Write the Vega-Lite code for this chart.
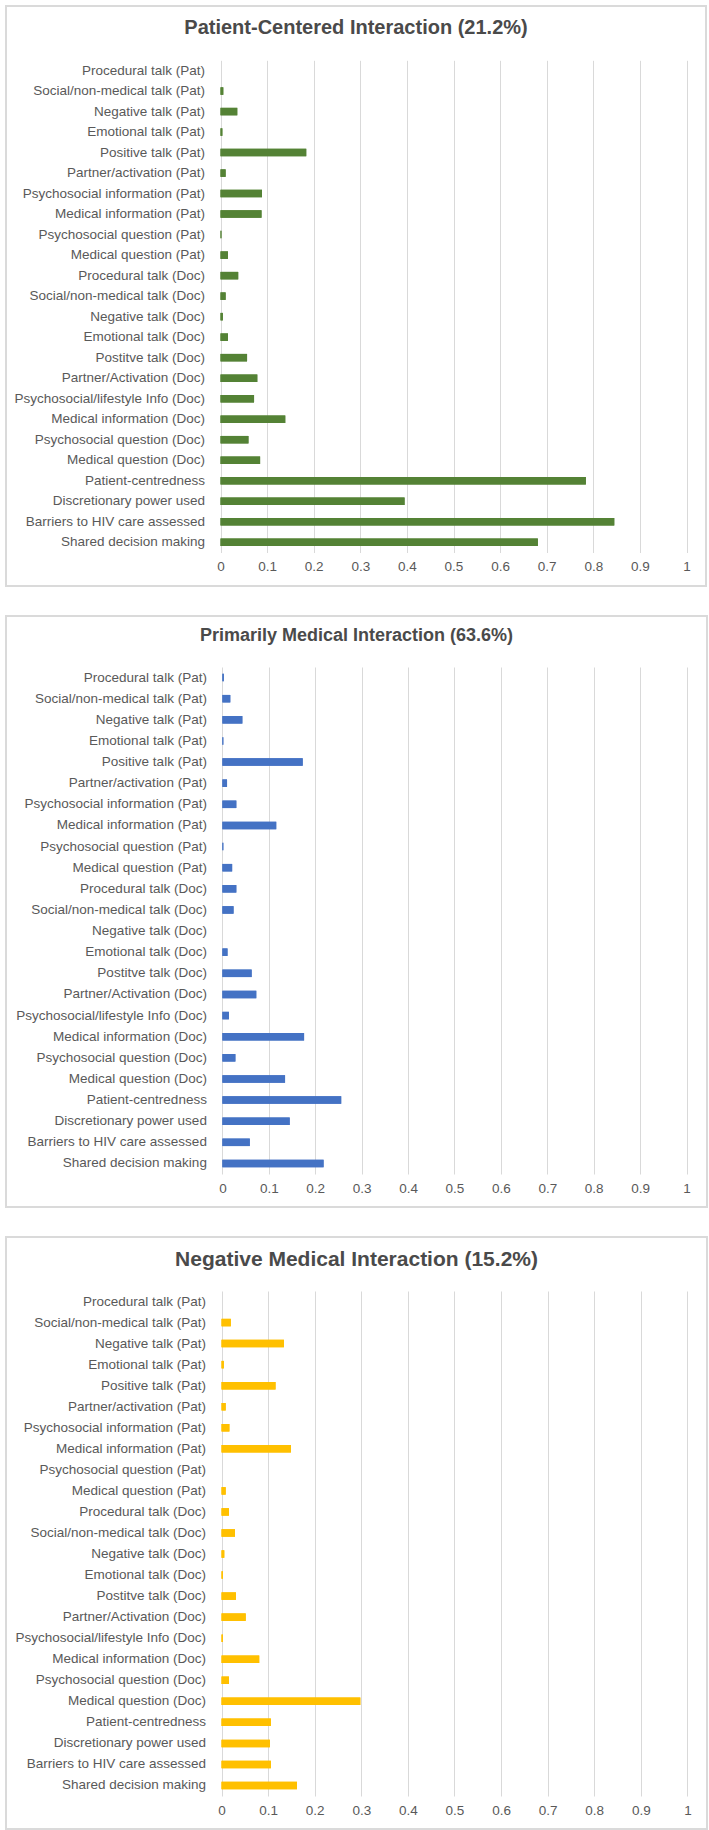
{
  "$schema": "https://vega.github.io/schema/vega-lite/v6.json",
  "padding": {"left": 5, "top": 5, "right": 0, "bottom": 0},
  "background": "white",
  "config": {
    "font": "Liberation Sans",
    "view": {"stroke": "#dadada", "strokeWidth": 2},
    "axis": {"labelFont": "Liberation Sans", "labelFontSize": 13.5, "labelColor": "#595959", "domain": false, "ticks": false, "title": null, "labelFlush": false},
    "title": {"font": "Liberation Sans", "fontWeight": "bold", "color": "#4a4a4a", "anchor": "middle", "frame": "group"}
  },
  "spacing": 28,
  "data": {"values": [
    {"panel": "PC", "item": "Procedural talk (Pat)", "value": 0},
    {"panel": "PC", "item": "Social/non-medical talk (Pat)", "value": 0.006},
    {"panel": "PC", "item": "Negative talk (Pat)", "value": 0.036},
    {"panel": "PC", "item": "Emotional talk (Pat)", "value": 0.004},
    {"panel": "PC", "item": "Positive talk (Pat)", "value": 0.184},
    {"panel": "PC", "item": "Partner/activation (Pat)", "value": 0.011},
    {"panel": "PC", "item": "Psychosocial information (Pat)", "value": 0.089},
    {"panel": "PC", "item": "Medical information (Pat)", "value": 0.088},
    {"panel": "PC", "item": "Psychosocial question (Pat)", "value": 0.002},
    {"panel": "PC", "item": "Medical question (Pat)", "value": 0.016},
    {"panel": "PC", "item": "Procedural talk (Doc)", "value": 0.038},
    {"panel": "PC", "item": "Social/non-medical talk (Doc)", "value": 0.011},
    {"panel": "PC", "item": "Negative talk (Doc)", "value": 0.005},
    {"panel": "PC", "item": "Emotional talk (Doc)", "value": 0.016},
    {"panel": "PC", "item": "Postitve talk (Doc)", "value": 0.057},
    {"panel": "PC", "item": "Partner/Activation (Doc)", "value": 0.079},
    {"panel": "PC", "item": "Psychosocial/lifestyle Info (Doc)", "value": 0.072},
    {"panel": "PC", "item": "Medical information (Doc)", "value": 0.139},
    {"panel": "PC", "item": "Psychosocial question (Doc)", "value": 0.060},
    {"panel": "PC", "item": "Medical question (Doc)", "value": 0.085},
    {"panel": "PC", "item": "Patient-centredness", "value": 0.784},
    {"panel": "PC", "item": "Discretionary power used", "value": 0.395},
    {"panel": "PC", "item": "Barriers to HIV care assessed", "value": 0.845},
    {"panel": "PC", "item": "Shared decision making", "value": 0.681},
    {"panel": "PM", "item": "Procedural talk (Pat)", "value": 0.003},
    {"panel": "PM", "item": "Social/non-medical talk (Pat)", "value": 0.017},
    {"panel": "PM", "item": "Negative talk (Pat)", "value": 0.043},
    {"panel": "PM", "item": "Emotional talk (Pat)", "value": 0.002},
    {"panel": "PM", "item": "Positive talk (Pat)", "value": 0.173},
    {"panel": "PM", "item": "Partner/activation (Pat)", "value": 0.010},
    {"panel": "PM", "item": "Psychosocial information (Pat)", "value": 0.030},
    {"panel": "PM", "item": "Medical information (Pat)", "value": 0.116},
    {"panel": "PM", "item": "Psychosocial question (Pat)", "value": 0.002},
    {"panel": "PM", "item": "Medical question (Pat)", "value": 0.021},
    {"panel": "PM", "item": "Procedural talk (Doc)", "value": 0.030},
    {"panel": "PM", "item": "Social/non-medical talk (Doc)", "value": 0.024},
    {"panel": "PM", "item": "Negative talk (Doc)", "value": 0},
    {"panel": "PM", "item": "Emotional talk (Doc)", "value": 0.011},
    {"panel": "PM", "item": "Postitve talk (Doc)", "value": 0.063},
    {"panel": "PM", "item": "Partner/Activation (Doc)", "value": 0.073},
    {"panel": "PM", "item": "Psychosocial/lifestyle Info (Doc)", "value": 0.014},
    {"panel": "PM", "item": "Medical information (Doc)", "value": 0.176},
    {"panel": "PM", "item": "Psychosocial question (Doc)", "value": 0.028},
    {"panel": "PM", "item": "Medical question (Doc)", "value": 0.135},
    {"panel": "PM", "item": "Patient-centredness", "value": 0.256},
    {"panel": "PM", "item": "Discretionary power used", "value": 0.145},
    {"panel": "PM", "item": "Barriers to HIV care assessed", "value": 0.059},
    {"panel": "PM", "item": "Shared decision making", "value": 0.218},
    {"panel": "NM", "item": "Procedural talk (Pat)", "value": 0},
    {"panel": "NM", "item": "Social/non-medical talk (Pat)", "value": 0.020},
    {"panel": "NM", "item": "Negative talk (Pat)", "value": 0.134},
    {"panel": "NM", "item": "Emotional talk (Pat)", "value": 0.005},
    {"panel": "NM", "item": "Positive talk (Pat)", "value": 0.116},
    {"panel": "NM", "item": "Partner/activation (Pat)", "value": 0.009},
    {"panel": "NM", "item": "Psychosocial information (Pat)", "value": 0.017},
    {"panel": "NM", "item": "Medical information (Pat)", "value": 0.149},
    {"panel": "NM", "item": "Psychosocial question (Pat)", "value": 0},
    {"panel": "NM", "item": "Medical question (Pat)", "value": 0.009},
    {"panel": "NM", "item": "Procedural talk (Doc)", "value": 0.016},
    {"panel": "NM", "item": "Social/non-medical talk (Doc)", "value": 0.029},
    {"panel": "NM", "item": "Negative talk (Doc)", "value": 0.006},
    {"panel": "NM", "item": "Emotional talk (Doc)", "value": 0.003},
    {"panel": "NM", "item": "Postitve talk (Doc)", "value": 0.031},
    {"panel": "NM", "item": "Partner/Activation (Doc)", "value": 0.052},
    {"panel": "NM", "item": "Psychosocial/lifestyle Info (Doc)", "value": 0.003},
    {"panel": "NM", "item": "Medical information (Doc)", "value": 0.081},
    {"panel": "NM", "item": "Psychosocial question (Doc)", "value": 0.016},
    {"panel": "NM", "item": "Medical question (Doc)", "value": 0.298},
    {"panel": "NM", "item": "Patient-centredness", "value": 0.106},
    {"panel": "NM", "item": "Discretionary power used", "value": 0.104},
    {"panel": "NM", "item": "Barriers to HIV care assessed", "value": 0.106},
    {"panel": "NM", "item": "Shared decision making", "value": 0.162}
  ]},
  "vconcat": [
    {
      "width": 700, "height": 580,
      "title": {"text": "Patient-Centered Interaction (21.2%)", "fontSize": 20, "offset": -32},
      "transform": [{"filter": "datum.panel === 'PC'"}],
      "resolve": {"axis": {"x": "independent"}},
      "encoding": {
        "y": {"field": "item", "type": "nominal", "sort": null,
              "scale": {"range": [54.3, 546.5], "paddingInner": 0, "paddingOuter": 0},
              "axis": {"offset": -214.5, "labelPadding": 16, "labelLimit": 260}}
      },
      "layer": [
        {
          "mark": {"type": "bar", "size": 7.5, "color": "#548235"},
          "encoding": {
            "x": {"field": "value", "type": "quantitative",
                  "scale": {"domain": [0, 1], "range": [214.5, 680.5], "nice": false},
                  "axis": {"orient": "top", "grid": true, "gridColor": "#d9d9d9", "gridWidth": 1, "labels": false, "values": [0,0.1,0.2,0.3,0.4,0.5,0.6,0.7,0.8,0.9,1]}}
          }
        },
        {
          "mark": {"type": "bar", "size": 7.5, "color": "#548235"},
          "encoding": {
            "x": {"field": "value", "type": "quantitative",
                  "axis": {"orient": "bottom", "grid": false, "offset": -33.5, "labelPadding": 7, "format": "~g", "values": [0,0.1,0.2,0.3,0.4,0.5,0.6,0.7,0.8,0.9,1]}}
          }
        }
      ]
    },
    {
      "width": 701, "height": 591,
      "title": {"text": "Primarily Medical Interaction (63.6%)", "fontSize": 18, "offset": -29},
      "transform": [{"filter": "datum.panel === 'PM'"}],
      "resolve": {"axis": {"x": "independent"}},
      "encoding": {
        "y": {"field": "item", "type": "nominal", "sort": null,
              "scale": {"range": [51, 558], "paddingInner": 0, "paddingOuter": 0},
              "axis": {"offset": -216.4, "labelPadding": 16, "labelLimit": 260}}
      },
      "layer": [
        {
          "mark": {"type": "bar", "size": 7.5, "color": "#4472c4"},
          "encoding": {
            "x": {"field": "value", "type": "quantitative",
                  "scale": {"domain": [0, 1], "range": [216.4, 680.5], "nice": false},
                  "axis": {"orient": "top", "grid": true, "gridColor": "#d9d9d9", "gridWidth": 1, "labels": false, "values": [0,0.1,0.2,0.3,0.4,0.5,0.6,0.7,0.8,0.9,1]}}
          }
        },
        {
          "mark": {"type": "bar", "size": 7.5, "color": "#4472c4"},
          "encoding": {
            "x": {"field": "value", "type": "quantitative",
                  "axis": {"orient": "bottom", "grid": false, "offset": -33, "labelPadding": 7, "format": "~g", "values": [0,0.1,0.2,0.3,0.4,0.5,0.6,0.7,0.8,0.9,1]}}
          }
        }
      ]
    },
    {
      "width": 701, "height": 592,
      "title": {"text": "Negative Medical Interaction (15.2%)", "fontSize": 21, "offset": -33},
      "transform": [{"filter": "datum.panel === 'NM'"}],
      "resolve": {"axis": {"x": "independent"}},
      "encoding": {
        "y": {"field": "item", "type": "nominal", "sort": null,
              "scale": {"range": [54, 559], "paddingInner": 0, "paddingOuter": 0},
              "axis": {"offset": -215.5, "labelPadding": 16, "labelLimit": 260}}
      },
      "layer": [
        {
          "mark": {"type": "bar", "size": 7.5, "color": "#ffc000"},
          "encoding": {
            "x": {"field": "value", "type": "quantitative",
                  "scale": {"domain": [0, 1], "range": [215.5, 681.4], "nice": false},
                  "axis": {"orient": "top", "grid": true, "gridColor": "#d9d9d9", "gridWidth": 1, "labels": false, "values": [0,0.1,0.2,0.3,0.4,0.5,0.6,0.7,0.8,0.9,1]}}
          }
        },
        {
          "mark": {"type": "bar", "size": 7.5, "color": "#ffc000"},
          "encoding": {
            "x": {"field": "value", "type": "quantitative",
                  "axis": {"orient": "bottom", "grid": false, "offset": -33, "labelPadding": 7, "format": "~g", "values": [0,0.1,0.2,0.3,0.4,0.5,0.6,0.7,0.8,0.9,1]}}
          }
        }
      ]
    }
  ]
}
